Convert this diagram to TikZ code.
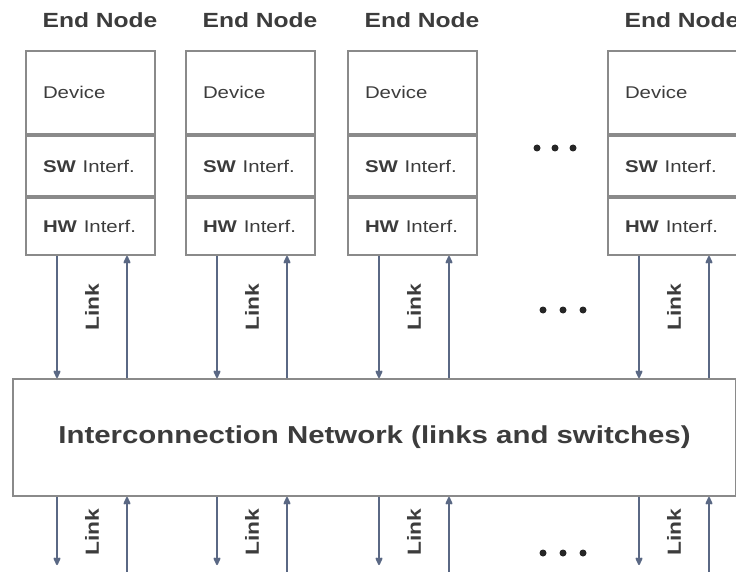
\documentclass[tikz,border=0pt]{standalone}
\usepackage{fontspec}
\setmainfont{Liberation Sans}
\usetikzlibrary{arrows.meta}
\definecolor{boxc}{HTML}{8A8A8A}
\definecolor{linec}{HTML}{5A6884}
\definecolor{tipc}{HTML}{3E4A66}
\definecolor{txt}{HTML}{3C3C3C}
\newcommand{\sx}[1]{\scalebox{1.2}[1]{#1}}
\begin{document}
\begin{tikzpicture}[x=1pt,y=-1pt,
  part/.style={draw=boxc, line width=2pt, minimum width=129pt, text width=95pt,
    inner xsep=17pt, inner ysep=0pt, align=left, anchor=north west,
    font=\fontsize{17}{20}\selectfont, text=txt},
  endlbl/.style={anchor=base, inner sep=0pt, font=\fontsize{20.5}{24}\selectfont\bfseries, text=txt},
  netbox/.style={draw=boxc, line width=2pt, anchor=north west, minimum width=723pt,
    minimum height=117pt, inner sep=0pt, font=\fontsize{24.5}{28}\selectfont\bfseries, text=txt},
  lnk/.style={draw=linec, line width=1.8pt, arrows={-Stealth[length=9pt,width=8pt,inset=1pt,round]}},
  lnklbl/.style={rotate=90, inner sep=0pt, font=\fontsize{19}{22}\selectfont\bfseries, text=txt},
  dot/.style={fill=black!85}
]
\useasboundingbox[fill=white] (0,0) rectangle (736,572);

\node[netbox] (net) at (12,378) {\sx{Interconnection Network (links and switches)}};

\foreach \i/\L in {1/25,2/185,3/347,4/607} {
  \node[part, minimum height=83pt] (dev\i) at (\L,50) {\sx{Device}};
  \node[part, minimum height=60pt] (sw\i) at (dev\i.south west) {\sx{\textbf{SW} Interf.}};
  \node[part, minimum height=57pt] (hw\i) at (sw\i.south west) {\sx{\textbf{HW} Interf.}};
  \node[endlbl] (end\i) at (\L+75,28) {\sx{End Node}};
  \coordinate (a\i) at ([xshift=32pt]hw\i.south west);
  \coordinate (b\i) at ([xshift=102pt]hw\i.south west);
  \draw[lnk] (a\i) -- (a\i |- net.north);
  \draw[lnk] (b\i |- net.north) -- (b\i);
  \node[lnklbl] (lt\i) at (\L+67,307) {\sx{Link}};
  \coordinate (ld\i) at (\L+32,565);
  \coordinate (lu\i) at (\L+102,572);
  \draw[lnk] (a\i |- net.south) -- (ld\i);
  \draw[lnk] (lu\i) -- (b\i |- net.south);
  \node[lnklbl] (lb\i) at (\L+67,532) {\sx{Link}};
}

\foreach \x in {537,555,573} \fill[dot] (\x,148) circle (3.5pt);
\foreach \x in {543,563,583} \fill[dot] (\x,310) circle (3.5pt);
\foreach \x in {543,563,583} \fill[dot] (\x,553) circle (3.5pt);
\end{tikzpicture}
\end{document}
